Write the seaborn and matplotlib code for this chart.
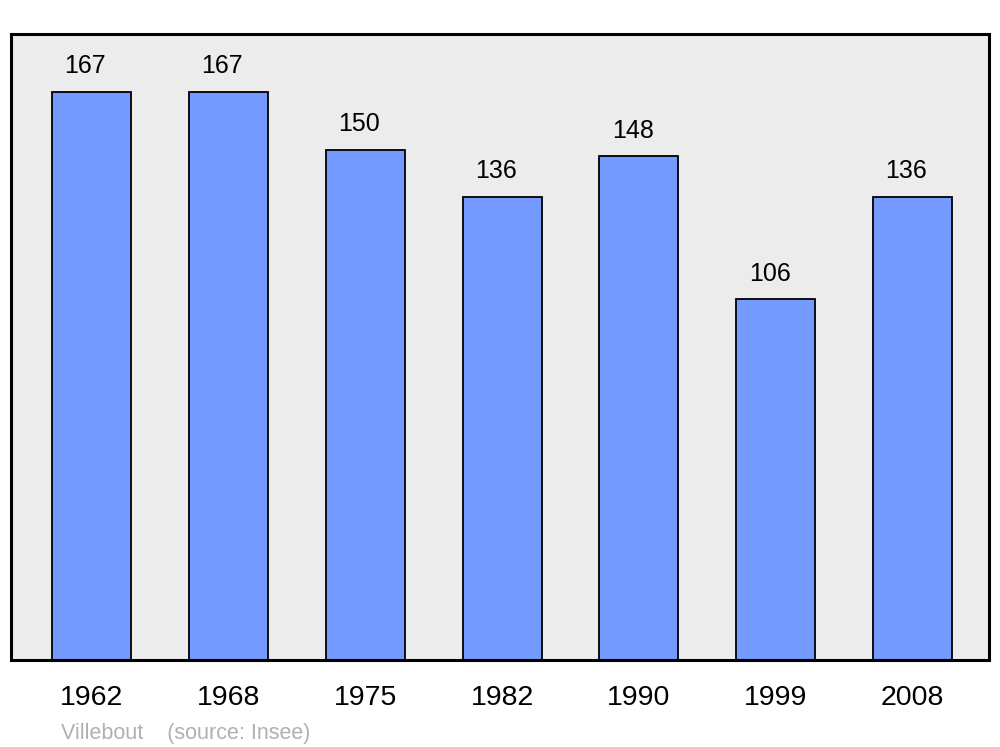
import matplotlib
matplotlib.use("Agg")
import matplotlib.pyplot as plt
import seaborn as sns
import pandas as pd

years = ["1962", "1968", "1975", "1982", "1990", "1999", "2008"]
population = [167, 167, 150, 136, 148, 106, 136]
source_text = "Villebout    (source: Insee)"

sns.set_theme(style="white")
plt.rcParams['font.family'] = ['Liberation Sans', 'DejaVu Sans']

df = pd.DataFrame({"year": years, "pop": population})

fig = plt.figure(figsize=(10, 7.47), dpi=100)
ax = fig.add_axes([11/1000, 1 - 660/747, 978/1000, 626/747])
ax.set_facecolor("#ececec")

sns.barplot(data=df, x="year", y="pop", ax=ax, color="#7499ff", saturation=1,
            width=0.577, edgecolor="black", linewidth=1.3)

ax.set_xlim(-0.588, 6.558)
ax.set_ylim(0, 184)
for s in ax.spines.values():
    s.set_visible(True)
    s.set_linewidth(2.2)
    s.set_color("black")

for i, v in enumerate(population):
    ax.text(i - 0.045, v + 7.6, str(v), ha="center", va="center", fontsize=18, color="black")

ax.set_yticks([])
ax.set_xlabel("")
ax.set_ylabel("")
ax.tick_params(axis="x", length=0, labelsize=20.5, pad=17.8, colors="black")

fig.text(61/1000, 1 - 733/747, source_text, ha="left", va="center", fontsize=15.5, color="#b0b0b0")

fig.savefig("out.png", dpi=100, facecolor="white")
